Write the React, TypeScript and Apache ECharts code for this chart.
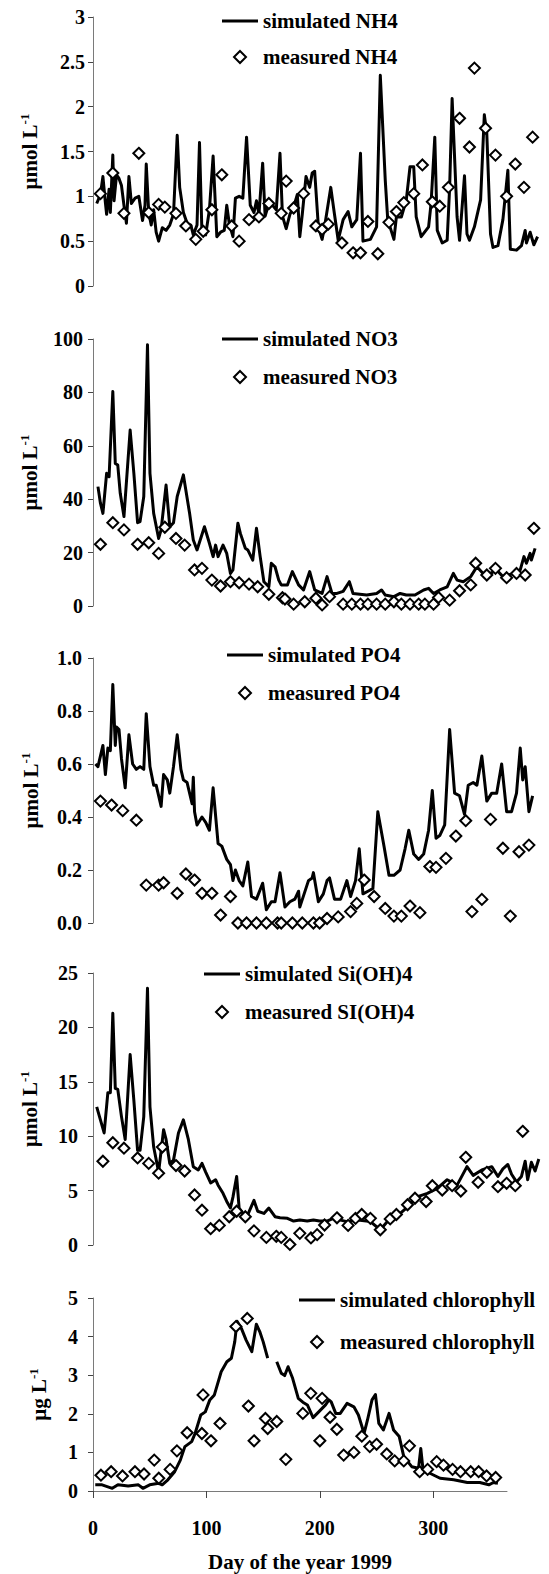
import React, { useEffect, useRef } from "react";
import * as echarts from "echarts";

const FONT = '"Liberation Serif", "Times New Roman", Times, serif';

// x axis (day of year)
const dayTicks = [0, 100, 200, 300];
const dayMax = 365;

// ---------- NH4 ----------
const nh4Sim = [
  [3, 0.92], [6, 1.02], [8, 1.22], [10, 0.93], [11, 0.8], [13, 1.08], [14, 0.82], [16, 1.46], [17, 0.95],
  [19, 1.24], [21, 1.2], [23, 1.12], [25, 0.9], [27, 0.7], [29, 1.22], [31, 0.92], [34, 0.98], [37, 1.0],
  [40, 0.73], [42, 0.9], [43, 1.36], [45, 0.82], [47, 0.68], [49, 0.85], [51, 0.6], [53, 0.5], [56, 0.65],
  [59, 0.62], [62, 0.68], [65, 0.8], [68, 1.68], [70, 1.1], [73, 0.82], [76, 0.7], [79, 0.68], [81, 0.57],
  [84, 0.68], [86, 1.6], [88, 0.58], [91, 0.57], [94, 0.85], [97, 1.45], [100, 0.55], [103, 0.6], [106, 0.62],
  [108, 0.9], [110, 0.7], [113, 0.55], [115, 0.98], [118, 1.0], [121, 0.98], [124, 1.66], [127, 0.9],
  [130, 0.82], [132, 0.95], [134, 0.8], [137, 1.37], [139, 0.78], [142, 0.92], [145, 0.9], [148, 0.85],
  [151, 1.48], [153, 0.78], [156, 0.64], [159, 0.8], [162, 0.88], [165, 1.02], [167, 0.55], [169, 0.8],
  [172, 1.22], [175, 1.1], [177, 1.26], [179, 1.28], [182, 0.66], [185, 0.52], [187, 0.66], [192, 1.1],
  [195, 0.8], [198, 0.51], [202, 0.74], [206, 0.83], [209, 0.66], [213, 0.74], [216, 1.48], [218, 0.5],
  [224, 0.52], [229, 0.66], [232, 2.35], [236, 1.18], [238, 0.74], [243, 0.52], [245, 0.77], [249, 0.77],
  [253, 0.96], [256, 1.33], [259, 1.33], [261, 0.77], [265, 0.55], [271, 0.66], [273, 0.92], [276, 1.66],
  [278, 0.62], [282, 0.48], [286, 0.51], [288, 1.1], [290, 2.09], [294, 0.77], [296, 0.51], [300, 1.23],
  [302, 0.58], [304, 0.51], [308, 0.66], [313, 0.96], [316, 1.91], [318, 1.7], [321, 0.58], [323, 0.43],
  [327, 0.45], [331, 0.74], [335, 1.29], [337, 0.41], [342, 0.4], [346, 0.45], [349, 0.62], [350, 0.48],
  [353, 0.6], [356, 0.46], [359, 0.55],
];
const nh4Meas = [
  [6, 1.03], [16, 1.26], [25, 0.81], [37, 1.48], [45, 0.82], [53, 0.91], [58, 0.88], [67, 0.81], [75, 0.67],
  [83, 0.52], [89, 0.61], [96, 0.85], [104, 1.24], [112, 0.67], [118, 0.5], [126, 0.74], [134, 0.77],
  [142, 0.92], [152, 0.81], [156, 1.17], [162, 0.87], [170, 1.03], [180, 0.67], [185, 0.63], [190, 0.69],
  [201, 0.48], [210, 0.37], [216, 0.37], [222, 0.72], [230, 0.36], [239, 0.71], [245, 0.83], [251, 0.93],
  [259, 1.03], [266, 1.35], [274, 0.94], [280, 0.89], [287, 1.1], [296, 1.87], [304, 1.55], [308, 2.43],
  [317, 1.76], [325, 1.46], [334, 1.0], [341, 1.36], [348, 1.1], [355, 1.66],
];

// ---------- NO3 ----------
const no3Sim = [
  [4, 44.7], [6, 38.5], [8, 34.7], [11, 49.7], [13, 48.4], [16, 80.3], [18, 53.4], [20, 52.8], [22, 42.2],
  [25, 33.5], [30, 65.9], [33, 49.7], [36, 31.2], [38, 31.6], [41, 41], [44, 97.8], [46, 49.7], [49, 34.7],
  [53, 25.3], [55, 28.5], [59, 45.3], [62, 29.7], [65, 31.2], [68, 41], [73, 49.1], [78, 34.7], [81, 24.7],
  [84, 21], [90, 29.7], [94, 23.5], [97, 18.5], [99, 22.8], [101, 18.5], [105, 22.8], [108, 19.7],
  [111, 12.2], [113, 13.5], [117, 31], [119, 27.2], [123, 21.6], [125, 21], [129, 17.2], [132, 29.1],
  [135, 18.5], [138, 9.1], [142, 7.2], [144, 16], [147, 14.7], [150, 9.7], [152, 7.9], [157, 7.9],
  [161, 12.9], [166, 7.9], [170, 6], [175, 12.9], [179, 6], [185, 4.7], [189, 11], [193, 4.7], [197, 4.7],
  [202, 5.5], [207, 9.1], [210, 4.7], [221, 4.1], [229, 4.7], [233, 6], [236, 4.1], [243, 3.5], [248, 4.7],
  [253, 4.1], [260, 4.1], [267, 6], [271, 6.6], [275, 4.7], [280, 6], [286, 7.2], [291, 12.2], [294, 9.7],
  [299, 9.1], [305, 11], [310, 14.7], [315, 12.2], [321, 12.2], [326, 13.5], [331, 11], [340, 12.2],
  [345, 13.5], [348, 18.5], [350, 16], [353, 19.7], [354, 17.2], [357, 21.6],
];
const no3Meas = [
  [6, 23.1], [16, 31.2], [25, 28.5], [36, 23.1], [45, 23.7], [53, 19.7], [58, 29.5], [67, 25.3], [74, 22.8],
  [82, 13.5], [88, 14.1], [96, 9.7], [103, 7.5], [111, 9.1], [118, 8.7], [126, 8.2], [133, 7.2], [142, 4.4],
  [153, 3.1], [155, 2.6], [162, 0.7], [171, 1.6], [180, 2.9], [185, 0.4], [191, 3.5], [202, 0.7], [209, 0.7],
  [216, 0.7], [222, 0.7], [229, 0.7], [236, 0.7], [243, 1.6], [249, 0.7], [256, 0.7], [263, 0.7], [268, 0.7],
  [275, 0.7], [279, 3.2], [288, 2.2], [296, 5.7], [305, 7.9], [309, 16], [318, 11.6], [325, 14.1],
  [334, 10.6], [342, 12.2], [349, 11.6], [356, 29.1],
];

// ---------- PO4 ----------
const po4Sim = [
  [2, 0.6], [4, 0.59], [6, 0.63], [8, 0.67], [10, 0.56], [12, 0.66], [14, 0.65], [16, 0.9], [18, 0.67],
  [19, 0.74], [21, 0.73], [23, 0.62], [26, 0.51], [29, 0.71], [32, 0.6], [35, 0.58], [38, 0.59], [41, 0.58],
  [43, 0.79], [46, 0.59], [49, 0.52], [51, 0.52], [55, 0.44], [57, 0.56], [60, 0.54], [62, 0.49], [65, 0.59],
  [68, 0.71], [71, 0.58], [73, 0.54], [76, 0.53], [80, 0.45], [81, 0.55], [82, 0.42], [84, 0.37], [88, 0.4],
  [91, 0.38], [94, 0.35], [97, 0.51], [101, 0.3], [104, 0.29], [108, 0.24], [111, 0.22], [113, 0.16],
  [115, 0.2], [118, 0.16], [121, 0.14], [125, 0.23], [128, 0.1], [132, 0.09], [137, 0.15], [140, 0.05],
  [144, 0.08], [147, 0.08], [151, 0.19], [155, 0.06], [159, 0.08], [163, 0.09], [166, 0.12], [167, 0.06],
  [174, 0.16], [177, 0.17], [178, 0.19], [182, 0.08], [186, 0.11], [189, 0.16], [191, 0.17], [195, 0.09],
  [200, 0.09], [205, 0.16], [208, 0.1], [212, 0.16], [215, 0.28], [218, 0.11], [222, 0.12], [226, 0.13],
  [230, 0.42], [235, 0.29], [239, 0.18], [243, 0.18], [248, 0.2], [252, 0.28], [255, 0.35], [259, 0.26],
  [263, 0.24], [267, 0.26], [271, 0.35], [274, 0.5], [277, 0.32], [280, 0.33], [284, 0.37], [288, 0.73],
  [292, 0.49], [296, 0.48], [300, 0.41], [303, 0.52], [307, 0.53], [310, 0.52], [314, 0.63], [318, 0.46],
  [322, 0.49], [326, 0.49], [330, 0.6], [334, 0.42], [338, 0.42], [342, 0.49], [345, 0.66], [347, 0.54],
  [349, 0.59], [352, 0.42], [355, 0.48],
];
const po4Meas = [
  [6, 0.46], [15, 0.445], [24, 0.424], [35, 0.388], [43, 0.143], [53, 0.143], [57, 0.152], [68, 0.112],
  [75, 0.185], [82, 0.162], [88, 0.112], [96, 0.112], [103, 0.03], [111, 0.1], [117, 0], [124, 0], [132, 0],
  [140, 0], [149, 0], [152, 0], [161, 0], [169, 0], [178, 0], [183, 0], [189, 0.017], [198, 0.023],
  [208, 0.043], [213, 0.074], [219, 0.162], [227, 0.1], [236, 0.055], [243, 0.026], [249, 0.026],
  [256, 0.064], [264, 0.039], [272, 0.213], [277, 0.21], [285, 0.244], [293, 0.328], [301, 0.386],
  [306, 0.043], [314, 0.089], [321, 0.391], [331, 0.282], [337, 0.026], [344, 0.269], [352, 0.294],
];

// ---------- Si(OH)4 ----------
const siSim = [
  [3, 12.7], [6, 11.5], [9, 10.3], [12, 14.0], [14, 14.0], [16, 21.3], [18, 14.4], [20, 14.3], [23, 11.8],
  [26, 9.7], [30, 17.5], [33, 13.3], [36, 8.7], [38, 8.7], [41, 11.8], [44, 23.6], [46, 12.7], [49, 9.0],
  [53, 6.7], [57, 10.6], [59, 9.7], [62, 7.5], [65, 7.8], [69, 10.3], [73, 11.5], [77, 9.7], [81, 7.2],
  [85, 6.9], [88, 7.5], [91, 6.7], [95, 5.7], [99, 6.0], [101, 5.5], [105, 4.75], [108, 4.0], [111, 3.4],
  [113, 4.4], [116, 6.3], [118, 3.4], [121, 2.9], [125, 2.8], [130, 4.1], [133, 3.1], [138, 2.9], [142, 3.4],
  [147, 2.6], [151, 2.5], [157, 2.45], [162, 2.2], [167, 2.3], [173, 2.2], [178, 2.3], [183, 2.2], [189, 2.2],
  [194, 2.45], [205, 2.15], [214, 2.3], [224, 2.15], [232, 1.4], [240, 2.45], [245, 2.6], [253, 3.4],
  [261, 4.4], [270, 4.75], [278, 5.2], [286, 6.0], [294, 5.5], [302, 7.2], [307, 6.4], [314, 6.9],
  [322, 7.2], [327, 6.3], [331, 7.0], [335, 7.4], [338, 6.5], [342, 5.8], [346, 6.3], [349, 7.7], [351, 6.0],
  [354, 7.6], [357, 6.8], [360, 7.9],
];
const siMeas = [
  [8, 7.7], [16, 9.4], [25, 8.9], [36, 8.0], [45, 7.5], [53, 6.6], [56, 9.0], [67, 7.3], [74, 6.8], [82, 4.6],
  [88, 3.2], [95, 1.5], [102, 1.8], [110, 2.6], [116, 3.1], [123, 2.6], [130, 1.3], [140, 0.7], [148, 0.8],
  [152, 0.7], [159, 0.05], [167, 1.07], [176, 0.65], [181, 0.95], [187, 1.84], [197, 2.5], [206, 1.8],
  [212, 2.45], [217, 2.8], [224, 2.45], [232, 1.4], [240, 2.4], [245, 2.8], [254, 3.7], [260, 4.3],
  [269, 4.0], [274, 5.45], [282, 5.05], [290, 5.45], [297, 4.96], [301, 8.06], [311, 5.76], [318, 6.68],
  [327, 5.36], [334, 5.67], [341, 5.45], [347, 10.45],
];

// ---------- chlorophyll ----------
const chlSim = [
  [2, 0.16], [8, 0.16], [17, 0.07], [22, 0.16], [31, 0.13], [40, 0.16], [44, 0.07], [50, 0.16], [58, 0.2],
  [61, 0.16], [66, 0.29], [72, 0.5], [77, 0.8], [81, 1.15], [87, 1.28], [90, 1.49], [95, 1.97], [99, 2.05],
  [103, 2.36], [107, 2.49], [113, 3.09], [118, 3.35], [122, 3.44], [125, 3.87], [127, 4.4], [131, 4.2],
  [135, 3.91], [140, 3.61], [144, 4.32], [147, 4.13], [150, 3.87], [154, 3.44], [158, null], [162, 3.35],
  [166, 3.05], [169, 2.99], [172, 3.22], [176, 2.92], [181, 2.4], [185, 2.3], [189, 2.23], [194, 1.9],
  [199, 2.05], [205, 2.23], [208, 2.36], [210, 2.31], [214, 2.01], [218, 2.01], [224, 2.27], [230, 2.18],
  [234, 1.97], [239, 1.49], [242, 1.84], [246, 2.36], [249, 2.5], [252, 1.75], [256, 1.58], [261, 2.01],
  [265, 1.58], [270, 1.41], [274, 0.89], [281, 0.63], [287, 0.59], [289, 1.1], [291, 0.54], [297, 0.46],
  [306, 0.33], [318, 0.29], [330, 0.22], [341, 0.22], [349, 0.16], [353, 0.22], [357, 0.2],
];
const chlMeas = [
  [7, 0.41], [16, 0.5], [26, 0.39], [37, 0.5], [45, 0.44], [54, 0.8], [58, 0.33], [68, 0.56], [74, 1.04],
  [83, 1.51], [96, 1.49], [97, 2.49], [104, 1.3], [112, 1.75], [126, 4.26], [136, 4.47], [137, 2.2],
  [142, 1.3], [152, 1.88], [154, 1.62], [162, 1.8], [170, 0.82], [185, 2.01], [192, 2.53], [200, 1.3],
  [202, 2.4], [209, 1.91], [215, 1.6], [221, 0.93], [230, 1.0], [237, 1.42], [244, 1.15], [250, 1.21],
  [259, 0.96], [266, 0.78], [274, 0.78], [279, 1.17], [288, 0.5], [295, 0.56], [303, 0.76], [309, 0.67],
  [317, 0.56], [324, 0.5], [333, 0.5], [340, 0.5], [347, 0.39], [355, 0.35],
];

// ---------- names ----------
const simNames = ["simulated NH4", "simulated NO3", "simulated PO4", "simulated Si(OH)4", "simulated chlorophyll"];
const measNames = ["measured NH4", "measured NO3", "measured PO4", "measured SI(OH)4", "measured chlorophyll"];
const yUnits = ["μmol L", "μmol L", "μmol L", "μmol L", "μg L"];
const yMax = [3, 100, 1, 25, 5];
const yStep = [0.5, 20, 0.2, 5, 1];
const xTitle = "Day of the year 1999";

const LINE_ICON = "path://M0,0L36,0L36,3L0,3Z";
const DIAMOND_ICON = "path://M6,0L12,6L6,12L0,6Z";

export default function App() {
  const ref = useRef<HTMLDivElement>(null);

  useEffect(() => {
    if (!ref.current) return;
    const chart = echarts.init(ref.current, null, { renderer: "svg" });

    const grids = [
      { left: 93, top: 17, width: 452, height: 269 },
      { left: 93, top: 339, width: 452, height: 267 },
      { left: 93, top: 658, width: 452, height: 265 },
      { left: 93, top: 973, width: 452, height: 272 },
      { left: 93, top: 1298, width: 414, height: 193 },
    ];
    const labelMargins = [8, 10, 11, 15, 15];
    const nameGaps = [51, 51, 50, 51, 42];
    const legendPos = [
      { left: 222, top: 10, itemGap: 14 },
      { left: 222, top: 328, itemGap: 16 },
      { left: 227, top: 644, itemGap: 16 },
      { left: 204, top: 963, itemGap: 16 },
      { left: 299, top: 1289, itemGap: 20 },
    ];
    const simData = [nh4Sim, no3Sim, po4Sim, siSim, chlSim];
    const measData = [nh4Meas, no3Meas, po4Meas, siMeas, chlMeas];

    const axisGray = "#7a7a7a";

    const xAxes = grids.map((_, i) => {
      const last = i === 4;
      return {
        type: "value",
        gridIndex: i,
        min: 0,
        max: dayMax,
        interval: 100,
        show: last,
        splitLine: { show: false },
        axisLine: { show: last, onZero: false, lineStyle: { color: axisGray, width: 1 } },
        axisTick: {
          show: last,
          length: 7,
          lineStyle: { color: "#444", width: 1 },
          customValues: dayTicks,
        },
        axisLabel: {
          show: last,
          margin: 27,
          color: "#000",
          fontSize: 20,
          fontWeight: "bold",
          fontFamily: FONT,
          customValues: dayTicks,
          formatter: (v: number) => (dayTicks.indexOf(v) >= 0 ? String(v) : ""),
        },
        name: last ? xTitle : "",
        nameLocation: "middle",
        nameGap: 60,
        nameTextStyle: { color: "#000", fontSize: 21, fontWeight: "bold", fontFamily: FONT },
      };
    });

    const yAxes = grids.map((_, i) => ({
      type: "value",
      gridIndex: i,
      min: 0,
      max: yMax[i],
      interval: yStep[i],
      splitLine: { show: false },
      axisLine: { show: true, lineStyle: { color: axisGray, width: 1 } },
      axisTick: { show: true, length: 5, lineStyle: { color: "#444", width: 1 } },
      axisLabel: {
        margin: labelMargins[i],
        color: "#000",
        fontSize: 20,
        fontWeight: "bold",
        fontFamily: FONT,
        formatter: i === 2 ? (v: number) => v.toFixed(1) : (v: number) => String(v),
      },
      name: `{a|${yUnits[i]}}{b|-1}`,
      nameLocation: "middle",
      nameRotate: 90,
      nameGap: nameGaps[i],
      nameTextStyle: {
        rich: {
          a: { fontSize: 21, fontWeight: "bold", fontFamily: FONT, color: "#000", lineHeight: 24 },
          b: {
            fontSize: 13,
            fontWeight: "bold",
            fontFamily: FONT,
            color: "#000",
            lineHeight: 14,
            verticalAlign: "top",
          },
        },
      },
    }));

    const series: any[] = [];
    for (let i = 0; i < 5; i++) {
      series.push({
        name: simNames[i],
        type: "line",
        xAxisIndex: i,
        yAxisIndex: i,
        data: simData[i],
        symbol: "none",
        showSymbol: false,
        connectNulls: false,
        color: "#000",
        lineStyle: { color: "#000", width: 3, join: "round" },
        z: 2,
      });
      series.push({
        name: measNames[i],
        type: "scatter",
        xAxisIndex: i,
        yAxisIndex: i,
        data: measData[i],
        symbol: "diamond",
        symbolSize: 11,
        itemStyle: { color: "#fff", borderColor: "#000", borderWidth: 2, opacity: 1 },
        z: 3,
      });
    }

    const legends = legendPos.map((p, i) => ({
      orient: "vertical",
      left: p.left,
      top: p.top,
      itemGap: p.itemGap,
      itemWidth: 36,
      itemHeight: 12,
      symbolKeepAspect: true,
      selectedMode: false,
      padding: 0,
      data: [
        { name: simNames[i], icon: LINE_ICON, itemStyle: { color: "#000", borderWidth: 0 } },
        {
          name: measNames[i],
          icon: DIAMOND_ICON,
          itemStyle: { color: "#fff", borderColor: "#000", borderWidth: 2 },
        },
      ],
      textStyle: { color: "#000", fontSize: 21, fontWeight: "bold", fontFamily: FONT, lineHeight: 22 },
    }));

    chart.setOption({
      animation: false,
      backgroundColor: "#fff",
      grid: grids,
      xAxis: xAxes,
      yAxis: yAxes,
      legend: legends,
      series,
    } as any);

    return () => chart.dispose();
  }, []);

  return (
    <div
      ref={ref}
      style={{ position: "absolute", left: 0, top: 0, width: 549, height: 1574, background: "#fff" }}
    />
  );
}
